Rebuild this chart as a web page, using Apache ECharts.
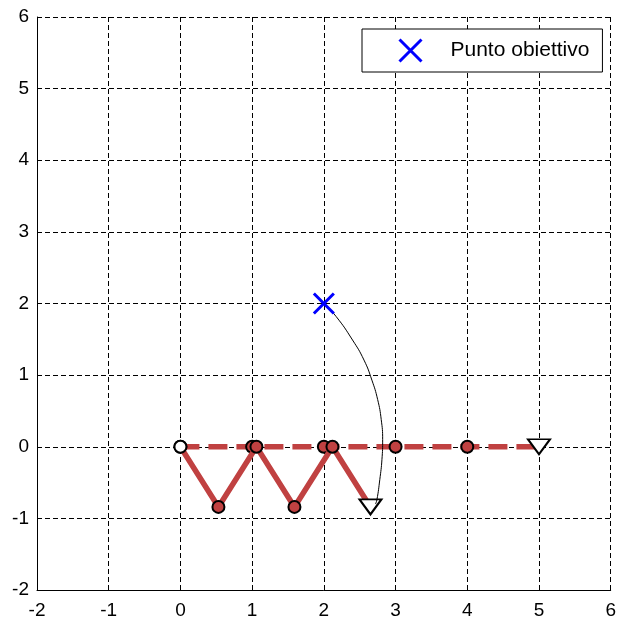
<!DOCTYPE html>
<html>
<head>
<meta charset="utf-8">
<script src="https://cdn.jsdelivr.net/npm/echarts@6/dist/echarts.min.js"></script>
<style>
  html, body { margin: 0; padding: 0; background: #fff; }
  #chart { width: 619px; height: 620px; }
</style>
</head>
<body>
<div id="chart"></div>
<script>
// Straight chain of links along the x axis (dashed)
const straightX = [0, 1, 2, 3, 4, 5];
const straightY = [0, 0, 0, 0, 0, 0];

// Zig-zag chain of links (solid)
const zigX = [0, 0.53, 1.06, 1.59, 2.12, 2.65];
const zigY = [0, -0.84, 0, -0.84, 0, -0.84];

// Target point
const targetX = [2];
const targetY = [2];
const targetName = 'Punto obiettivo';

// Arc from the target down to the chain end
const arcX = [2.0, 2.17, 2.40, 2.56, 2.67, 2.75, 2.80, 2.82, 2.81, 2.78, 2.74, 2.72];
const arcY = [2.0, 1.82, 1.49, 1.21, 0.93, 0.66, 0.38, 0.10, -0.18, -0.46, -0.74, -0.80];

// Axis ticks
const axisMin = -2, axisMax = 6, axisStep = 1;

const RED = '#c04141';
const FONT = '"Liberation Sans", Arial, sans-serif';

function chainData(xs, ys) {
  const last = xs.length - 1;
  return xs.map((x, i) => {
    const item = { value: [x, ys[i]] };
    if (i === 0) {
      item.symbol = 'circle';
      item.symbolSize = 12;
      item.itemStyle = { color: '#ffffff', borderColor: '#000', borderWidth: 2 };
    } else if (i === last) {
      item.symbol = 'triangle';
      item.symbolSize = [22, 15];
      item.symbolRotate = 180;
      item.itemStyle = { color: '#ffffff', borderColor: '#000', borderWidth: 2 };
    } else {
      item.symbol = 'circle';
      item.symbolSize = 12;
      item.itemStyle = { color: RED, borderColor: '#000', borderWidth: 2 };
    }
    return item;
  });
}

function axis() {
  return {
    type: 'value',
    min: axisMin,
    max: axisMax,
    interval: axisStep,
    axisLine: { show: true, onZero: false, lineStyle: { color: '#000', width: 1 } },
    axisTick: { show: true, inside: true, length: 5, lineStyle: { color: '#000' } },
    splitLine: {
      show: true,
      showMinLine: true,
      showMaxLine: true,
      lineStyle: { color: '#000', width: 1, type: [5, 3] }
    },
    axisLabel: { color: '#000', fontFamily: FONT, fontSize: 19 }
  };
}

const xAxis = axis();
xAxis.axisLabel.margin = 11;
const yAxis = axis();
yAxis.axisLabel.margin = 8;

const xPath = 'path://M0,0L20,20M20,0L0,20';

const option = {
  animation: false,
  backgroundColor: '#fff',
  grid: { left: 37, right: 8.3, top: 17, bottom: 29.3, containLabel: false },
  xAxis: xAxis,
  yAxis: yAxis,
  legend: {
    data: [{
      name: targetName,
      icon: xPath,
      itemStyle: { color: '#0000ff', borderColor: '#0000ff', borderWidth: 3 }
    }],
    left: 362,
    top: 29,
    padding: [9, 13, 9, 36],
    itemWidth: 22,
    itemHeight: 22,
    backgroundColor: '#fff',
    borderColor: '#000',
    borderWidth: 1,
    borderRadius: 0,
    selectedMode: false,
    textStyle: { color: '#000', fontFamily: FONT, fontSize: 21, padding: [0, 0, 0, 24] }
  },
  series: [
    {
      name: 'straight',
      type: 'line',
      data: chainData(straightX, straightY),
      lineStyle: { color: RED, width: 5.5, type: [19, 9] },
      z: 2
    },
    {
      name: 'zigzag',
      type: 'line',
      data: chainData(zigX, zigY),
      lineStyle: { color: RED, width: 5.5 },
      z: 3
    },
    {
      name: 'arc',
      type: 'line',
      data: arcX.map((x, i) => [x, arcY[i]]),
      smooth: true,
      showSymbol: false,
      symbol: 'none',
      lineStyle: { color: '#000', width: 1 },
      z: 4
    },
    {
      name: targetName,
      type: 'scatter',
      data: targetX.map((x, i) => [x, targetY[i]]),
      symbol: xPath,
      symbolSize: 20,
      itemStyle: { color: '#0000ff', borderColor: '#0000ff', borderWidth: 3, opacity: 1 },
      z: 5
    }
  ]
};

const chart = echarts.init(document.getElementById('chart'), null, { renderer: 'canvas' });
chart.setOption(option);
</script>
</body>
</html>
